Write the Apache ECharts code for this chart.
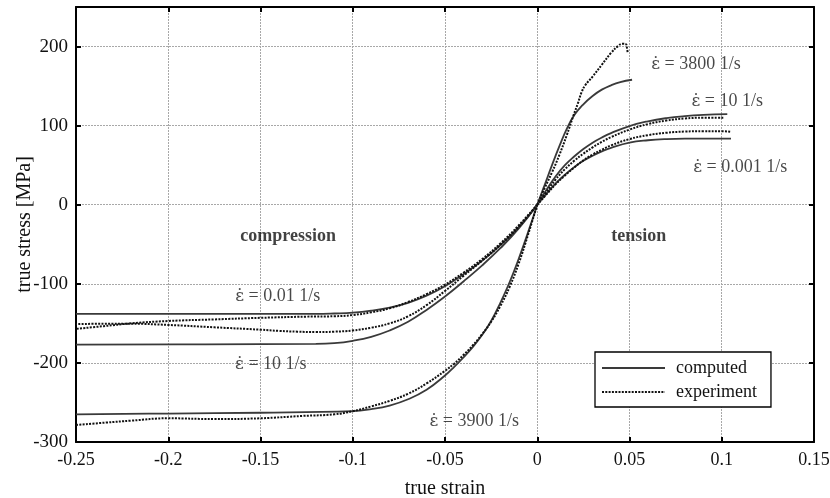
<!DOCTYPE html>
<html>
<head>
<meta charset="utf-8">
<script src="https://cdn.jsdelivr.net/npm/echarts@6/dist/echarts.min.js"></script>
<style>html,body{margin:0;padding:0;background:#fff}#c{width:830px;height:498px}</style>
</head>
<body>
<div id="c"></div>
<script>
// ---- data: [true strain, true stress MPa] ----
// compression
const comp001Computed = [[0,0],[-0.01,-28],[-0.02,-51],[-0.03,-71],[-0.04,-88],[-0.05,-103],[-0.06,-115],[-0.07,-124],[-0.08,-130],[-0.09,-134],[-0.1,-136.5],[-0.11,-137.5],[-0.12,-138],[-0.25,-138]];
const comp001Experiment = [[0,0],[-0.01,-26],[-0.02,-49],[-0.03,-69],[-0.04,-86],[-0.05,-101],[-0.06,-113],[-0.07,-123],[-0.08,-131],[-0.09,-136],[-0.1,-139.5],[-0.11,-141],[-0.125,-141.5],[-0.15,-143],[-0.175,-145],[-0.2,-147],[-0.22,-150],[-0.235,-153.5],[-0.25,-157]];
const comp10Computed = [[0,0],[-0.01,-30],[-0.02,-55],[-0.03,-77],[-0.04,-97],[-0.05,-116],[-0.06,-133],[-0.07,-148],[-0.08,-159],[-0.09,-167],[-0.1,-172],[-0.11,-175],[-0.12,-176],[-0.18,-176.5],[-0.25,-177]];
const comp10Experiment = [[0,0],[-0.01,-28],[-0.02,-51],[-0.03,-71],[-0.04,-90],[-0.05,-109],[-0.06,-127],[-0.07,-141],[-0.08,-150],[-0.09,-155.5],[-0.1,-159],[-0.11,-160.5],[-0.12,-161],[-0.13,-160.5],[-0.14,-159.5],[-0.15,-158],[-0.175,-155],[-0.2,-152],[-0.22,-150.5],[-0.235,-150.5],[-0.25,-151]];
const comp3900Computed = [[0,0],[-0.005,-35],[-0.01,-68],[-0.015,-98],[-0.02,-124],[-0.025,-147],[-0.03,-165],[-0.035,-180],[-0.04,-193],[-0.045,-205],[-0.05,-216],[-0.06,-234],[-0.07,-246],[-0.08,-254],[-0.09,-258.5],[-0.1,-261],[-0.15,-263],[-0.2,-264],[-0.25,-265]];
const comp3900Experiment = [[0,0],[-0.005,-38],[-0.01,-74],[-0.015,-104],[-0.02,-128],[-0.025,-148],[-0.03,-164],[-0.035,-178],[-0.04,-190],[-0.045,-201],[-0.05,-210],[-0.06,-226],[-0.07,-239],[-0.08,-248],[-0.09,-255],[-0.1,-261],[-0.11,-265],[-0.127,-267],[-0.15,-270],[-0.175,-271],[-0.2,-270],[-0.22,-273],[-0.234,-275.5],[-0.25,-278.5]];
// tension
const ten0001Computed = [[0,0],[0.005,14],[0.01,27],[0.015,38],[0.02,47.5],[0.025,55.5],[0.03,62],[0.035,67.5],[0.04,72],[0.05,78.5],[0.06,81.5],[0.07,83],[0.08,83.5],[0.09,83.5],[0.105,83.5]];
const ten0001Experiment = [[0,0],[0.005,13],[0.01,26],[0.015,37],[0.02,47],[0.025,56],[0.03,63.5],[0.035,69.5],[0.04,75],[0.05,83],[0.06,88],[0.07,91],[0.08,92.5],[0.09,93],[0.1,93],[0.105,92]];
const ten10Computed = [[0,0],[0.005,19],[0.01,36],[0.015,50],[0.02,61],[0.025,70.5],[0.03,78.5],[0.035,85],[0.04,90.5],[0.05,99.5],[0.06,105.5],[0.07,109.5],[0.08,112],[0.09,113.5],[0.103,114.5]];
const ten10Experiment = [[0,0],[0.005,16],[0.01,32],[0.015,45],[0.02,55.5],[0.025,64.5],[0.03,72.5],[0.035,79.5],[0.04,85.5],[0.05,95],[0.06,102],[0.07,106.5],[0.08,109],[0.09,110],[0.101,110]];
const ten3800Computed = [[0,0],[0.004,25],[0.008,50],[0.012,74],[0.016,96],[0.02,113],[0.025,127],[0.03,137.5],[0.035,145.5],[0.04,151],[0.045,155],[0.0514,158]];
const ten3800Experiment = [[0,0],[0.004,21],[0.008,41],[0.012,63],[0.016,88],[0.0195,112],[0.022,128],[0.024,142],[0.026,151],[0.03,162],[0.035,177],[0.04,192],[0.044,201],[0.046,203.5],[0.048,203],[0.0487,197],[0.049,192]];

// annotations: [strain, stress, rate text]
const rateLabels = [
  [0.086, 177, '3800 1/s'],
  [0.103, 131, '10 1/s'],
  [0.110, 47, '0.001 1/s'],
  [-0.1407, -116, '0.01 1/s'],
  [-0.1444, -202, '10 1/s'],
  [-0.0342, -274, '3900 1/s']
];
const rateSymbol = 'ε̇';
const regionLabels = [
  [-0.135, -40.5, 'compression'],
  [0.055, -40.5, 'tension']
];

// axis settings
const xMin = -0.25, xMax = 0.15, xStep = 0.05;
const yMin = -300, yMax = 250, yStep = 100;
const legendNames = ['computed', 'experiment'];

const FONT = 'Liberation Serif';
const chart = echarts.init(document.getElementById('c'), null, {renderer: 'canvas'});

function curve(name, data, isExp) {
  return {
    name: name, type: 'line', data: data, symbol: 'none', smooth: 0.45,
    xAxisIndex: 0, yAxisIndex: 0, animation: false, z: 3,
    lineStyle: isExp ? {color: '#111', width: 2, type: [2, 1.3]} : {color: '#3a3a3a', width: 1.8, type: 'solid'},
    itemStyle: {color: isExp ? '#111' : '#3a3a3a'}
  };
}

const series = [
  curve('computed', comp001Computed, false),
  curve('experiment', comp001Experiment, true),
  curve('computed', comp10Computed, false),
  curve('experiment', comp10Experiment, true),
  curve('computed', comp3900Computed, false),
  curve('experiment', comp3900Experiment, true),
  curve('computed', ten0001Computed, false),
  curve('experiment', ten0001Experiment, true),
  curve('computed', ten10Computed, false),
  curve('experiment', ten10Experiment, true),
  curve('computed', ten3800Computed, false),
  curve('experiment', ten3800Experiment, true),
  {
    name: 'labels', type: 'scatter', symbolSize: 0, silent: true, animation: false, z: 5,
    data: rateLabels.map(a => ({value: [a[0], a[1]], name: a[2]})),
    label: {show: true, position: 'inside', color: '#1a1a1a', fontFamily: FONT, fontSize: 18,
            formatter: p => '{e|' + rateSymbol + '}{t| = ' + p.name + '}',
            rich: {e: {fontFamily: 'DejaVu Serif', fontSize: 17, color: '#1a1a1a'},
                   t: {fontFamily: FONT, fontSize: 18, color: '#1a1a1a'}}}
  },
  {
    name: 'regions', type: 'scatter', symbolSize: 0, silent: true, animation: false, z: 5,
    data: regionLabels.map(a => ({value: [a[0], a[1]], name: a[2]})),
    label: {show: true, position: 'inside', formatter: p => p.name, color: '#111', fontFamily: FONT, fontSize: 18, fontWeight: 'bold'}
  }
];

const frame = {show: true, onZero: false, lineStyle: {color: '#000', width: 2}};
const ticksIn = {show: true, inside: true, length: 5, lineStyle: {color: '#000', width: 2}};
const grid = {show: true, lineStyle: {color: '#a8a8a8', width: 1, type: [2, 1]}};

chart.setOption({
  backgroundColor: '#fff',
  animation: false,
  textStyle: {fontFamily: FONT},
  grid: {left: 76, right: 16, top: 7, bottom: 56, containLabel: false, outerBoundsMode: 'none'},
  legend: {
    data: legendNames, orient: 'vertical', left: 595, top: 352,
    borderColor: '#000', borderWidth: 1.3, padding: [7, 14, 6, 6],
    itemWidth: 63, itemHeight: 14, itemGap: 6,
    itemStyle: {opacity: 0},
    textStyle: {fontFamily: FONT, fontSize: 18, color: '#111', padding: [0, 0, 0, 6]},
    backgroundColor: '#fff', selectedMode: false
  },
  xAxis: [
    {type: 'value', position: 'bottom', min: xMin, max: xMax, interval: xStep,
     axisLine: frame, axisTick: ticksIn, splitLine: grid,
     axisLabel: {show: true, color: '#111', fontFamily: FONT, fontSize: 18, margin: 9, formatter: v => String(Math.round(v * 100) / 100)},
     name: 'true strain', nameLocation: 'middle', nameGap: 37, nameMoveOverlap: false,
     nameTextStyle: {fontFamily: FONT, fontSize: 20, color: '#111'}},
    {type: 'value', position: 'top', min: xMin, max: xMax, interval: xStep,
     axisLine: frame, axisTick: ticksIn, splitLine: {show: false}, axisLabel: {show: false}}
  ],
  yAxis: [
    {type: 'value', position: 'left', min: yMin, max: yMax, interval: yStep,
     axisLine: frame, axisTick: ticksIn, splitLine: grid,
     axisLabel: {show: true, color: '#111', fontFamily: FONT, fontSize: 19, margin: 8, showMaxLabel: false},
     name: 'true stress [MPa]', nameLocation: 'middle', nameGap: 41, nameMoveOverlap: false,
     nameTextStyle: {fontFamily: FONT, fontSize: 20, color: '#111'}},
    {type: 'value', position: 'right', min: yMin, max: yMax, interval: yStep,
     axisLine: frame, axisTick: ticksIn, splitLine: {show: false}, axisLabel: {show: false}}
  ],
  series: series
});
</script>
</body>
</html>
